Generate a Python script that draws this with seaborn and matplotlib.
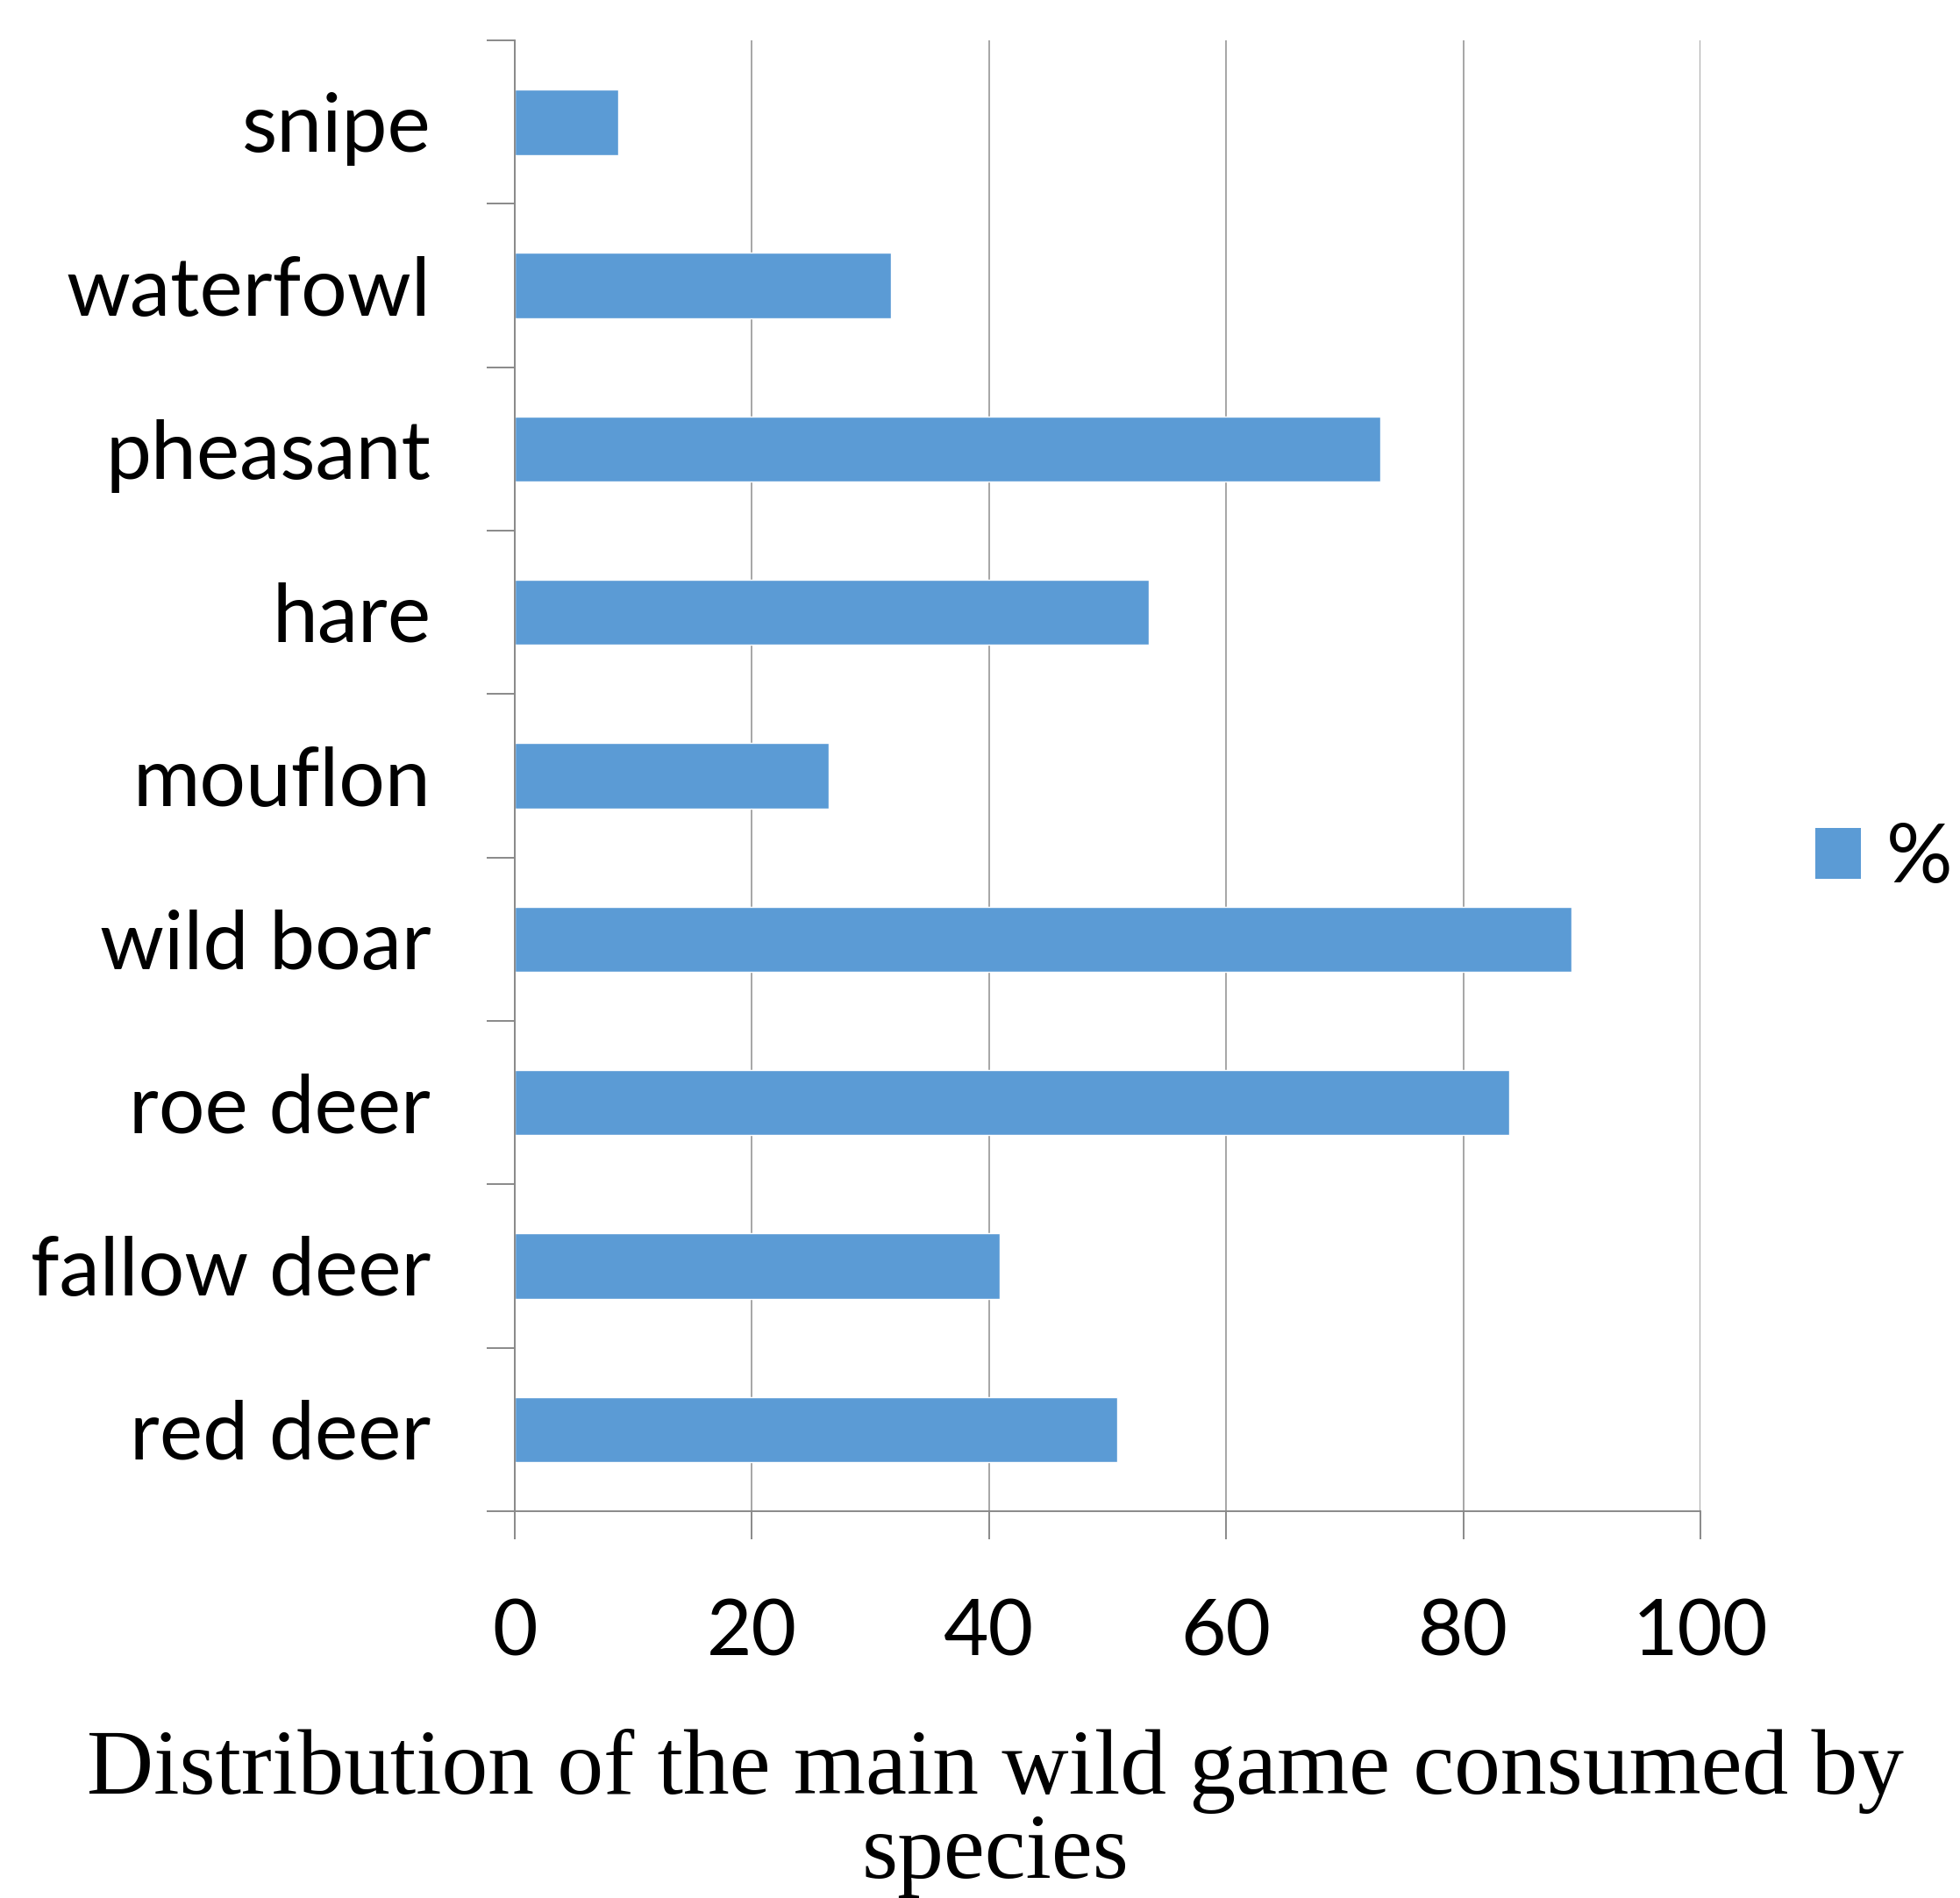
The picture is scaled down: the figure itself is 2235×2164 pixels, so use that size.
import matplotlib
matplotlib.use("Agg")
import matplotlib.pyplot as plt
import seaborn as sns
import pandas as pd
from matplotlib.patches import Patch

species = ["snipe", "waterfowl", "pheasant", "hare", "mouflon",
           "wild boar", "roe deer", "fallow deer", "red deer"]
percent = [8.7, 31.7, 73.0, 53.5, 26.5, 89.1, 83.9, 40.9, 50.8]
x_ticks = [0, 20, 40, 60, 80, 100]
series_name = "%"
title = "Distribution of the main wild game consumed by\nspecies"

sns.set_theme(style="white")
plt.rcParams['font.family'] = ['Lato', 'DejaVu Sans']
plt.rcParams['text.color'] = 'black'

BAR = "#5B9BD5"
GRID = "#A6A6A6"
AXIS = "#898989"

df = pd.DataFrame({"species": species, "percent": percent})

fig = plt.figure(figsize=(22.35, 21.64), dpi=100)
ax = fig.add_axes([0.2627, 0.2038, 0.8675 - 0.2627, 0.9787 - 0.2038])

sns.barplot(data=df, y="species", x="percent", order=species, color=BAR,
            width=0.4, saturation=1, ax=ax, orient="h")

ax.set_xlim(0, 100)
ax.set_ylim(len(species) - 0.5, -0.5)
ax.set_xticks(x_ticks)
ax.set_xticklabels([str(t) for t in x_ticks])
ax.set_xlabel("")
ax.set_ylabel("")

ax.set_axisbelow(True)
ax.xaxis.grid(True, color=GRID, linewidth=1.4)
ax.yaxis.grid(False)

for s in ["top", "right"]:
    ax.spines[s].set_visible(False)
for s in ["left", "bottom"]:
    ax.spines[s].set_color(AXIS)
    ax.spines[s].set_linewidth(1.4)

# y ticks at category boundaries
ax.set_yticks([i - 0.5 for i in range(len(species) + 1)], minor=True)
ax.tick_params(axis="y", which="minor", length=23, width=1.4, color=AXIS, left=True)
ax.tick_params(axis="y", which="major", length=0, pad=46 + 23, labelsize=67)
ax.tick_params(axis="x", which="major", length=23, width=1.4, color=AXIS,
               bottom=True, pad=48, labelsize=64)

for lab in ax.get_yticklabels() + ax.get_xticklabels():
    lab.set_color("black")

handle = Patch(facecolor=BAR, edgecolor="none", label=series_name)
fig.legend(handles=[handle], loc="center left", bbox_to_anchor=(0.926, 0.547),
           frameon=False, fontsize=68, handlelength=0.56, handleheight=0.56,
           handletextpad=0.3, borderpad=0, borderaxespad=0)

fig.text(0.508, 0.0445, title, ha="center", va="center", fontsize=76,
         color="black", family=["Liberation Serif", "DejaVu Serif"],
         linespacing=1.0)

fig.savefig("out.png", dpi=100, facecolor="white")
